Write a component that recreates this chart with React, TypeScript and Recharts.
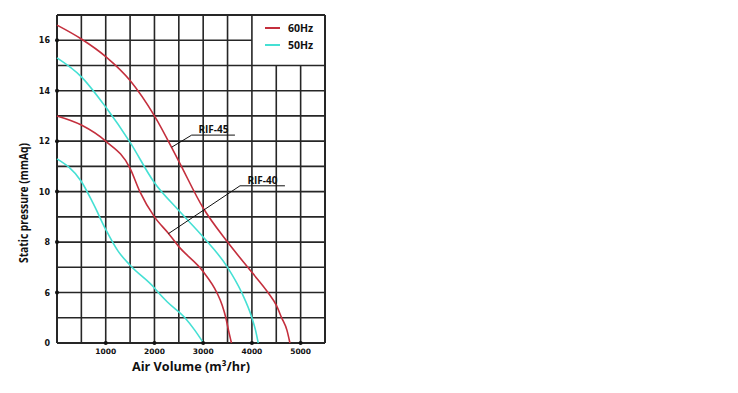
import React from 'react';
import {
  LineChart,
  Line,
  XAxis,
  YAxis,
  ReferenceLine,
  ReferenceDot,
  Legend,
} from 'recharts';

// ---- axis ticks ----
const flowTicks = [0, 500, 1000, 1500, 2000, 2500, 3000, 3500, 4000, 4500, 5000, 5500];
const flowLabels = [1000, 2000, 3000, 4000, 5000];
const displayTicks = [4, 5, 6, 7, 8, 9, 10, 11, 12, 13, 14, 15, 16, 17];
const pressureLabels = [0, 6, 8, 10, 12, 14, 16];
const pressureDots = [6, 8, 10, 12, 14, 16];

// ---- series (air volume m3/hr, static pressure mmAq) ----
const rif45Hz60Flow = [0, 500, 1000, 1500, 2000, 2500, 3000, 3500, 4000, 4330, 4500, 4610, 4720, 4780];
const rif45Hz60Pressure = [16.6, 16.05, 15.35, 14.4, 13.0, 11.2, 9.35, 8.0, 6.8, 6.0, 4.5, 3.0, 1.5, 0];

const rif45Hz50Flow = [0, 500, 1000, 1500, 2000, 2500, 3000, 3500, 3790, 4000, 4075, 4130];
const rif45Hz50Pressure = [15.3, 14.55, 13.35, 11.95, 10.35, 9.25, 8.2, 7.0, 6.0, 3.0, 1.5, 0];

const rif40Hz60Flow = [0, 500, 1000, 1500, 1700, 2000, 2285, 2500, 3000, 3280, 3390, 3465, 3520, 3580];
const rif40Hz60Pressure = [13.0, 12.64, 12.0, 10.92, 10.0, 9.0, 8.35, 7.82, 6.83, 6.0, 4.5, 3.0, 1.5, 0];

const rif40Hz50Flow = [0, 500, 750, 1000, 1250, 1500, 2000, 2080, 2260, 2625, 2830, 3005];
const rif40Hz50Pressure = [11.3, 10.4, 9.5, 8.5, 7.65, 7.08, 6.18, 6.0, 4.9, 3.0, 1.5, 0];

// ---- legend / annotations ----
const legendItems = [
  { label: '60Hz', color: '#c42f3d' },
  { label: '50Hz', color: '#45e0d4' },
];
const annotationNames = ['RIF-45', 'RIF-40'];
const annotationText = [
  { x: 3211, y: 12.24 },
  { x: 4216, y: 10.23 },
];
const annotationUnderline = [
  [{ x: 2764, y: 12.24 }, { x: 3652, y: 12.24 }],
  [{ x: 3755, y: 10.23 }, { x: 4678, y: 10.23 }],
];
const annotationLeader = [
  [{ x: 2764, y: 12.24 }, { x: 2353, y: 11.76 }],
  [{ x: 3755, y: 10.23 }, { x: 2284, y: 8.33 }],
];

// broken axis: 0..6 mmAq compressed into 2 grid units
const toDisplay = (p: number) => (p >= 6 ? p : 4 + p / 3);
const fromDisplay = (d: number) => (d >= 6 ? d : (d - 4) * 3);

const makeSeries = (flow: number[], pressure: number[]) =>
  flow.map((x, i) => ({ x, y: toDisplay(pressure[i]) }));

const series = [
  { name: 'RIF-45 60Hz', data: makeSeries(rif45Hz60Flow, rif45Hz60Pressure), color: legendItems[0].color },
  { name: 'RIF-45 50Hz', data: makeSeries(rif45Hz50Flow, rif45Hz50Pressure), color: legendItems[1].color },
  { name: 'RIF-40 60Hz', data: makeSeries(rif40Hz60Flow, rif40Hz60Pressure), color: legendItems[0].color },
  { name: 'RIF-40 50Hz', data: makeSeries(rif40Hz50Flow, rif40Hz50Pressure), color: legendItems[1].color },
];

const GRID = '#262626';
const X_MIN = 0;
const X_MAX = 5500;
const Y_MIN = 4;
const Y_MAX = 17;

// grid lines (legend box leaves a blank area in the top-right corner)
const verticalGrid = flowTicks.map((x) => [
  { x, y: Y_MIN },
  { x, y: x > 4000 && x < X_MAX ? 15 : Y_MAX },
]);
const horizontalGrid = displayTicks.map((y) => [
  { x: X_MIN, y },
  { x: y === 16 ? 4000 : X_MAX, y },
]);

const YTick = (props: any) => {
  const { x, y, payload } = props;
  const p = fromDisplay(payload.value);
  if (!pressureLabels.includes(p)) return <g />;
  return (
    <text x={x} y={y} dy={3} textAnchor="end" fontSize={8} fontWeight="bold" fontFamily="DejaVu Sans" fill="#111">
      {p}
    </text>
  );
};

const XTick = (props: any) => {
  const { x, y, payload } = props;
  if (!flowLabels.includes(payload.value)) return <g />;
  return (
    <text x={x} y={y} dy={5} textAnchor="middle" fontSize={7.5} fontWeight="bold" fontFamily="DejaVu Sans" fill="#111">
      {payload.value}
    </text>
  );
};

const XLabel = (props: any) => {
  const vb = props.viewBox;
  return (
    <text
      x={vb.x + vb.width / 2}
      y={vb.y + 28}
      textAnchor="middle"
      fontSize={13}
      fontWeight="bold"
      fontFamily="Open Sans"
      fill="#111"
      textLength={118}
      lengthAdjust="spacingAndGlyphs"
    >
      Air Volume (m³/hr)
    </text>
  );
};

const YLabel = (props: any) => {
  const vb = props.viewBox;
  const cx = vb.x + 19.5;
  const cy = vb.y + 188;
  return (
    <text
      x={cx}
      y={cy}
      transform={`rotate(-90 ${cx} ${cy})`}
      textAnchor="middle"
      fontSize={13}
      fontWeight="bold"
      fontFamily="Open Sans"
      fill="#111"
      textLength={120}
      lengthAdjust="spacingAndGlyphs"
    >
      Static pressure (mmAq)
    </text>
  );
};

const LegendContent = () => (
  <div style={{ fontFamily: 'Open Sans', fontWeight: 'bold', fontSize: 10.5, color: '#111' }}>
    {legendItems.map((it) => (
      <div key={it.label} style={{ display: 'flex', alignItems: 'center', height: 17 }}>
        <span style={{ display: 'inline-block', width: 15, height: 2.2, background: it.color, marginRight: 8 }} />
        <span style={{ lineHeight: 1 }}>{it.label}</span>
      </div>
    ))}
  </div>
);

export default function App() {
  return (
    <div style={{ width: 730, height: 385 }}>
      <LineChart width={340} height={385} margin={{ top: 7, right: 23, bottom: 0, left: 0 }}>
        <XAxis
          type="number"
          dataKey="x"
          domain={[X_MIN, X_MAX]}
          ticks={flowTicks}
          interval={0}
          axisLine={false}
          tickLine={false}
          tickSize={6}
          tickMargin={0}
          height={50}
          tick={<XTick />}
          label={{ content: <XLabel /> } as any}
        />
        <YAxis
          type="number"
          dataKey="y"
          domain={[Y_MIN, Y_MAX]}
          ticks={displayTicks}
          interval={0}
          axisLine={false}
          tickLine={false}
          tickSize={7}
          tickMargin={0}
          width={49}
          tick={<YTick />}
          label={{ content: <YLabel /> } as any}
        />
        {verticalGrid.map((seg, i) => (
          <ReferenceLine
            key={'gv' + i}
            segment={seg}
            stroke={GRID}
            strokeWidth={seg[0].x === X_MIN || seg[0].x === X_MAX ? 2 : 1.6}
          />
        ))}
        {horizontalGrid.map((seg, i) => (
          <ReferenceLine
            key={'gh' + i}
            segment={seg}
            stroke={GRID}
            strokeWidth={seg[0].y === Y_MIN || seg[0].y === Y_MAX ? 2 : 1.6}
          />
        ))}
        {series.map((s) => (
          <Line
            key={s.name}
            data={s.data}
            dataKey="y"
            type="monotone"
            stroke={s.color}
            strokeWidth={1.6}
            dot={false}
            activeDot={false}
            isAnimationActive={false}
          />
        ))}
        {annotationLeader.map((seg, i) => (
          <ReferenceLine key={'l' + i} segment={seg} stroke="#111" strokeWidth={1} />
        ))}
        {annotationUnderline.map((seg, i) => (
          <ReferenceLine key={'u' + i} segment={seg} stroke="#111" strokeWidth={1} />
        ))}
        {annotationText.map((pt, i) => (
          <ReferenceDot
            key={'t' + i}
            x={pt.x}
            y={pt.y}
            r={0}
            stroke="none"
            fill="none"
            label={{
              value: annotationNames[i],
              position: 'top',
              offset: 2,
              fontSize: 10,
              fontWeight: 'bold',
              fontFamily: 'Open Sans',
              fill: '#111',
            } as any}
          />
        ))}
        {flowLabels.map((v) => (
          <ReferenceDot key={'xd' + v} x={v} y={Y_MIN} r={2} fill="#111" stroke="none" />
        ))}
        {pressureDots.map((v) => (
          <ReferenceDot key={'yd' + v} x={X_MIN} y={toDisplay(v)} r={2} fill="#111" stroke="none" />
        ))}
        <Legend
          layout="vertical"
          align="center"
          verticalAlign="middle"
          wrapperStyle={{ left: 257, top: 11.5, width: 70 }}
          content={<LegendContent />}
        />
      </LineChart>
    </div>
  );
}
